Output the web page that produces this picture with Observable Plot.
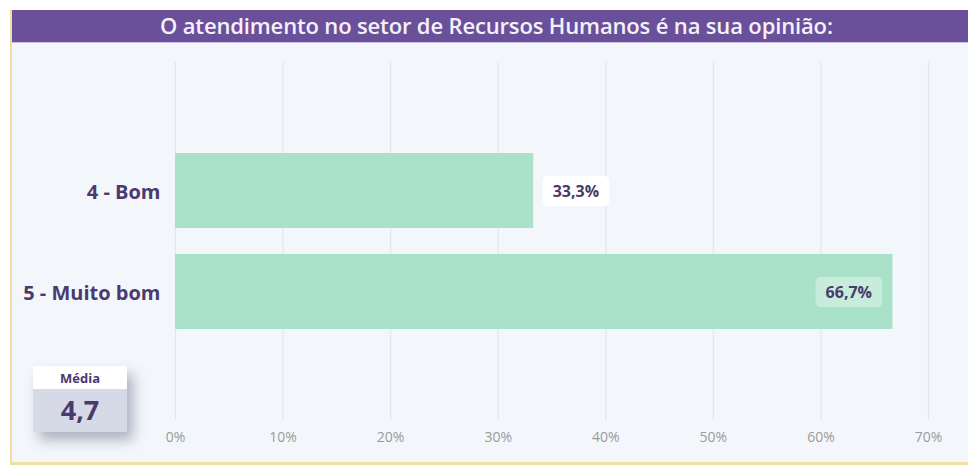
<!DOCTYPE html>
<html>
<head>
<meta charset="utf-8">
<script src="https://cdn.jsdelivr.net/npm/d3@7"></script>
<script src="https://cdn.jsdelivr.net/npm/@observablehq/plot@0.6"></script>
<style>
  html, body { margin: 0; padding: 0; background: #ffffff; width: 968px; height: 469px; overflow: hidden; }
  #panel { position: absolute; left: 10px; top: 10px; width: 975px; height: 452px; background: #f3f7fb;
           border-left: 2px solid #f1df9f; border-bottom: 3px solid #f1df9f; box-sizing: content-box; }
  #title { position: absolute; left: 0; top: 0; right: 0; height: 32px; background: #6a509b;
           border-bottom: 1px solid #cdbfe3;
           color: #f4f1f8; font-family: "Open Sans", sans-serif; font-weight: 600; font-size: 22px;
           line-height: 31px; text-align: left; }
  #title span { position: absolute; left: 148px; top: 0; white-space: nowrap; letter-spacing: -0.15px; }
  #chart { position: absolute; left: 0; top: 0; }
  #media { position: absolute; left: 33px; top: 366px; width: 94px; height: 66px;
           box-shadow: 6px 8px 12px rgba(90, 95, 120, 0.45); font-family: "Open Sans", sans-serif; }
  #media .hd { height: 23px; background: #ffffff; color: #4b3a6e; font-weight: 700; font-size: 13px;
               text-align: center; line-height: 24px; }
  #media .bd { height: 43px; background: #d6d9e6; color: #4b3a6e; font-weight: 700; font-size: 27px;
               text-align: center; line-height: 42px; }
</style>
</head>
<body>
<div id="panel"><div id="title"><span id="titleText"></span></div></div>
<div id="chart"></div>
<div id="media"><div class="hd" id="mediaLabel"></div><div class="bd" id="mediaValue"></div></div>
<script>
const titleText = "O atendimento no setor de Recursos Humanos é na sua opinião:";
const categories = ["4 - Bom", "5 - Muito bom"];
const percents = [33.3, 66.7];
const labels = ["33,3%", "66,7%"];
const xTicks = [0, 10, 20, 30, 40, 50, 60, 70];
const mediaLabel = "Média";
const mediaValue = "4,7";

document.getElementById("titleText").textContent = titleText;
document.getElementById("mediaLabel").textContent = mediaLabel;
document.getElementById("mediaValue").textContent = mediaValue;

const data = categories.map((c, i) => ({cat: c, pct: percents[i], label: labels[i]}));
const inside = data.filter(d => d.pct > 50);
const outside = data.filter(d => d.pct <= 50);

const chart = Plot.plot({
  width: 968,
  height: 469,
  marginLeft: 175,
  marginRight: 40,
  marginTop: 62,
  marginBottom: 49,
  style: {background: "transparent", fontFamily: "Open Sans, sans-serif"},
  x: {domain: [0, 70], ticks: xTicks, tickFormat: d => d + "%", label: null},
  y: {domain: categories, paddingInner: 0.257, paddingOuter: 0.9, label: null},
  marks: [
    Plot.gridX(xTicks, {stroke: "#e3e6eb", strokeOpacity: 1, strokeWidth: 1.2}),
    Plot.barX(data, {x: "pct", y: "cat", fill: "#aae2c9"}),
    Plot.text(outside, {x: "pct", y: "cat", text: "label", textAnchor: "start", dx: 19, dy: 1,
      fill: "#4a3a6c", fontWeight: 700, fontSize: 16, className: "vlab-out"}),
    Plot.text(inside, {x: "pct", y: "cat", text: "label", textAnchor: "end", dx: -21, dy: 1,
      fill: "#4a3a6c", fontWeight: 700, fontSize: 16, className: "vlab-in"}),
    Plot.axisX({ticks: xTicks, tickSize: 0, tickPadding: 12, fontSize: 14, fill: "#9a9a9a",
      tickFormat: d => d + "%", label: null}),
    Plot.axisY({tickSize: 0, tickPadding: 15, dy: 2, fontSize: 20, fontWeight: 700, fill: "#4b3a6e", label: null})
  ]
});
document.getElementById("chart").appendChild(chart);

// rounded label backgrounds, sized from the rendered text
function addBackgrounds(cls, fill) {
  d3.select(chart).selectAll("g." + cls + " text").each(function() {
    const b = this.getBBox();
    const px = 10, py = 4;
    d3.select(this.parentNode).insert("rect", () => this)
      .attr("transform", this.getAttribute("transform"))
      .attr("x", b.x - px).attr("y", b.y - py)
      .attr("width", b.width + 2 * px).attr("height", b.height + 2 * py)
      .attr("rx", 5).attr("fill", fill);
  });
}
addBackgrounds("vlab-out", "#ffffff");
addBackgrounds("vlab-in", "rgba(255,255,255,0.35)");
</script>
</body>
</html>
